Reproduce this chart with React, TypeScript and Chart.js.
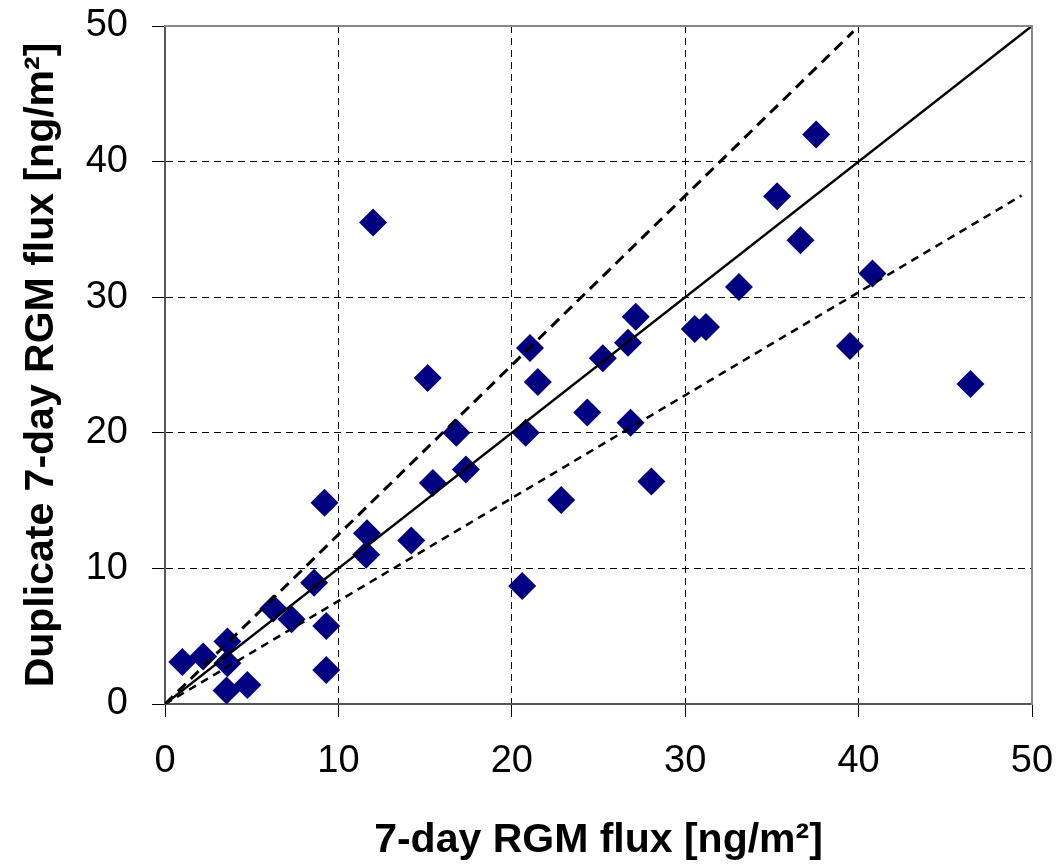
import React, { useEffect, useRef } from "react";
import { Chart, registerables } from "chart.js";

Chart.register(...registerables);

// Measured points: x = 7-day RGM flux, y = duplicate
const fluxX: number[] = [
  1.0, 2.2, 3.6, 3.6, 3.55, 4.75, 6.25, 7.3, 8.6, 9.2,
  9.3, 9.3, 11.65, 11.6, 12.0, 14.2, 15.15, 15.45, 16.8, 17.35,
  20.8, 20.6, 21.05, 21.5, 22.85, 24.35, 25.25, 26.7, 26.85, 27.15,
  28.05, 30.55, 31.2, 33.1, 35.3, 36.65, 37.55, 39.5, 40.8, 46.45,
];
const fluxDup: number[] = [
  3.1, 3.5, 4.6, 3.0, 1.0, 1.4, 7.05, 6.25, 8.95, 14.85,
  5.75, 2.5, 12.6, 11.0, 35.5, 12.05, 24.05, 16.3, 20.0, 17.3,
  20.0, 8.7, 26.25, 23.75, 15.05, 21.5, 25.5, 26.65, 20.75, 28.55,
  16.4, 27.65, 27.8, 30.75, 37.45, 34.2, 42.0, 26.4, 31.75, 23.6,
];

// Reference lines (endpoints)
const oneToOneX: number[] = [0, 50];
const oneToOneY: number[] = [0, 50];
const upperX: number[] = [0, 39.7];
const upperY: number[] = [0, 49.6];
const lowerX: number[] = [0, 49.4];
const lowerY: number[] = [0, 37.5];

const tickValues: number[] = [0, 10, 20, 30, 40, 50];

const xTitle = "7-day RGM flux [ng/m²]";
const yTitle = "Duplicate 7-day RGM flux [ng/m²]";

const FONT = "'Liberation Sans', Arial, Helvetica, sans-serif";

const toPts = (xs: number[], ys: number[]) => xs.map((x, i) => ({ x, y: ys[i] }));

export default function App() {
  const ref = useRef<HTMLCanvasElement | null>(null);

  useEffect(() => {
    if (!ref.current) return;
    const gridCommon = {
      color: (ctx: any) => {
        const v = ctx.tick ? ctx.tick.value : null;
        if (v === 0 || v === 50) return "rgba(0,0,0,0)";
        return "#000000";
      },
      lineWidth: 1,
      tickColor: "#000000",
      tickWidth: 1,
      tickBorderDash: [],
      tickLength: 13,
      drawTicks: true,
    };
    const axisBorder = { display: true, color: "#555555", width: 2, dash: [7, 5] };
    const frameAxis = (pos: string, isX: boolean) => ({
      type: "linear",
      position: pos,
      min: 0,
      max: 50,
      display: true,
      ticks: { display: false },
      grid: { display: false, drawTicks: false, drawOnChartArea: false },
      border: { display: true, color: "#888888", width: 2, z: 1 },
      afterFit: (scale: any) => {
        if (isX) scale.height = 0;
        else scale.width = 0;
        scale.paddingLeft = 0;
        scale.paddingRight = 0;
        scale.paddingTop = 0;
        scale.paddingBottom = 0;
      },
    });
    const chart = new Chart(ref.current, {
      type: "scatter",
      data: {
        datasets: [
          {
            data: toPts(oneToOneX, oneToOneY),
            showLine: true,
            borderColor: "#000000",
            borderWidth: 2.5,
            pointRadius: 0,
            order: 1,
          },
          {
            data: toPts(upperX, upperY),
            showLine: true,
            borderColor: "#000000",
            borderWidth: 3,
            borderDash: [11, 7],
            pointRadius: 0,
            order: 2,
          },
          {
            data: toPts(lowerX, lowerY),
            showLine: true,
            borderColor: "#000000",
            borderWidth: 2.5,
            borderDash: [8, 6],
            pointRadius: 0,
            order: 3,
          },
          {
            data: toPts(fluxX, fluxDup),
            pointStyle: "rectRot",
            pointRadius: 14,
            backgroundColor: "#000080",
            borderColor: "#000080",
            borderWidth: 0,
            showLine: false,
            order: 4,
          },
        ],
      },
      options: {
        responsive: false,
        animation: false,
        layout: { padding: { left: 0, right: 27, top: 26, bottom: 0 } },
        plugins: {
          legend: { display: false },
          tooltip: { enabled: false },
        },
        scales: {
          x: {
            type: "linear",
            position: "bottom",
            min: 0,
            max: 50,
            afterBuildTicks: (scale: any) => {
              scale.ticks = tickValues.map((v) => ({ value: v }));
            },
            afterFit: (scale: any) => {
              scale.height = 161;
              scale.paddingLeft = 0;
              scale.paddingRight = 0;
            },
            ticks: {
              font: { family: FONT, size: 38 },
              color: "#000000",
              padding: 22,
              maxRotation: 0,
              autoSkip: false,
            },
            grid: gridCommon as any,
            border: axisBorder,
            title: {
              display: true,
              text: xTitle,
              font: { family: FONT, size: 41, weight: "bold" },
              color: "#000000",
              padding: { top: 0, bottom: 0 },
            },
          },
          y: {
            type: "linear",
            position: "left",
            min: 0,
            max: 50,
            afterBuildTicks: (scale: any) => {
              scale.ticks = tickValues.map((v) => ({ value: v }));
            },
            afterFit: (scale: any) => {
              scale.width = 165;
              scale.paddingTop = 0;
              scale.paddingBottom = 0;
            },
            ticks: {
              font: { family: FONT, size: 38 },
              color: "#000000",
              padding: 24,
              autoSkip: false,
            },
            grid: gridCommon as any,
            border: axisBorder,
            title: {
              display: true,
              text: yTitle,
              font: { family: FONT, size: 41, weight: "bold" },
              color: "#000000",
              padding: { top: 17, bottom: 0 },
            },
          },
          x2: frameAxis("top", true),
          y2: frameAxis("right", false),
        },
      } as any,
    });
    return () => chart.destroy();
  }, []);

  return (
    <div style={{ position: "absolute", left: 0, top: 0, width: 1059, height: 865, background: "#ffffff" }}>
      <canvas ref={ref} width={1059} height={865} />
    </div>
  );
}
